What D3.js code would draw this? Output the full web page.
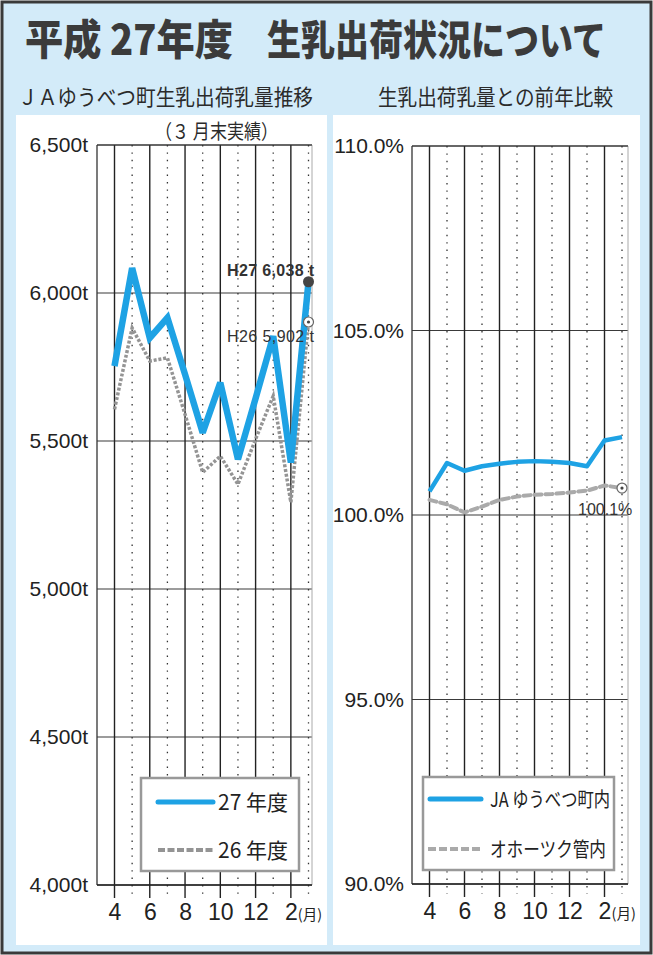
<!DOCTYPE html>
<html><head><meta charset="utf-8">
<script src="https://cdn.jsdelivr.net/npm/d3@7"></script>
<style>
body{margin:0;background:#fff;}
svg{display:block;}
text{font-family:"Liberation Sans",Arial,sans-serif;}
.jp{font-family:"Noto Sans CJK JP","Noto Sans",sans-serif;}
</style></head>
<body>
<svg id="c" width="653" height="955"></svg>
<script>
// ---------- data ----------
const months = [4,5,6,7,8,9,10,11,12,1,2,3];
const xTickIdx = [0,2,4,6,8,10];
const xTickLabels = ["4","6","8","10","12","2"];

const volTicks = [4000,4500,5000,5500,6000,6500];
const volTickLabels = ["4,000t","4,500t","5,000t","5,500t","6,000t","6,500t"];
const volH27 = [5753,6084,5848,5916,5725,5528,5697,5438,5644,5854,5427,6038];
const volH26 = [5607,5882,5770,5781,5590,5394,5449,5354,5506,5652,5293,5902];

const pctTicks = [90,95,100,105,110];
const pctTickLabels = ["90.0%","95.0%","100.0%","105.0%","110.0%"];
const pctJA  = [100.64,101.41,101.20,101.32,101.39,101.44,101.46,101.44,101.41,101.32,102.02,102.11];
const pctOkh = [100.41,100.29,100.07,100.23,100.41,100.50,100.55,100.57,100.61,100.66,100.80,100.73];

const BLUE = "#1ea2e4";
const GRAY = "#949494";

const svg = d3.select("#c");

// background & frame
svg.append("rect").attr("x",2).attr("y",2).attr("width",649).attr("height",951)
  .attr("fill","#d3ebf9").attr("stroke","#3a3a3a").attr("stroke-width",3);

// title (two parts)
svg.append("text").attr("class","jp").attr("transform","translate(25,55) scale(1,1.2)")
  .attr("textLength",208).attr("lengthAdjust","spacingAndGlyphs")
  .attr("font-size",35).attr("font-weight",900).attr("fill","#3b3b3b")
  .text("平成 27年度");
svg.append("text").attr("class","jp").attr("transform","translate(267,55) scale(1,1.2)")
  .attr("font-size",34).attr("font-weight",900).attr("fill","#3b3b3b")
  .text("生乳出荷状況について");

// subtitles
svg.append("text").attr("class","jp").attr("x",18).attr("y",105)
  .attr("textLength",295).attr("lengthAdjust","spacingAndGlyphs")
  .attr("font-size",22).attr("fill","#2a2a2a").text("ＪＡゆうべつ町生乳出荷乳量推移");
svg.append("text").attr("class","jp").attr("x",378).attr("y",105)
  .attr("textLength",235).attr("lengthAdjust","spacingAndGlyphs")
  .attr("font-size",22).attr("fill","#2a2a2a").text("生乳出荷乳量との前年比較");

// panels
svg.append("rect").attr("x",16).attr("y",115).attr("width",311).attr("height",830).attr("fill","#fff");
svg.append("rect").attr("x",333).attr("y",115).attr("width",307).attr("height",830).attr("fill","#fff");

svg.append("text").attr("class","jp").attr("x",155).attr("y",139)
  .attr("textLength",123).attr("lengthAdjust","spacingAndGlyphs")
  .attr("font-size",20).attr("fill","#2a2a2a").text("（３ 月末実績）");

function drawChart(opt){
  const g = svg.append("g");
  const x = d3.scaleLinear().domain([0,11]).range(opt.xr);
  const y = d3.scaleLinear().domain(opt.yd).range(opt.yr);
  const [L,R] = opt.frame;
  const top = opt.yr[1], bot = opt.yr[0];
  g.selectAll(".hg").data(opt.ticks).enter().append("line")
    .attr("x1",L).attr("x2",R).attr("y1",d=>y(d)).attr("y2",d=>y(d))
    .attr("stroke","#3a3a3a").attr("stroke-width",1.2);
  g.selectAll(".vg").data(months).enter().append("line")
    .attr("x1",(d,i)=>x(i)).attr("x2",(d,i)=>x(i))
    .attr("y1",top).attr("y2",(d,i)=>i%2===0? bot+13 : bot+10)
    .attr("stroke",(d,i)=>i%2===0?"#222":"#333")
    .attr("stroke-width",(d,i)=>i%2===0?1.4:1.3)
    .attr("stroke-dasharray",(d,i)=>i%2===0?null:"1.4,6");
  g.append("line").attr("x1",L).attr("x2",L).attr("y1",top).attr("y2",bot).attr("stroke","#333").attr("stroke-width",1.3);
  g.append("line").attr("x1",R).attr("x2",R).attr("y1",top).attr("y2",bot).attr("stroke","#aaa").attr("stroke-width",1);
  const ya = d3.axisLeft(y).tickValues(opt.ticks).tickFormat((d,i)=>opt.tickLabels[i]).tickSize(0).tickPadding(L-opt.labelRight);
  const yg = g.append("g").attr("transform",`translate(${L},0)`).call(ya);
  yg.select(".domain").remove();
  yg.selectAll("text").attr("font-size",21).attr("fill","#222").attr("font-family","Liberation Sans, Arial, sans-serif");
  const xa = d3.axisBottom(x).tickValues(xTickIdx).tickFormat((d,i)=>xTickLabels[i]).tickSize(0).tickPadding(19);
  const xg = g.append("g").attr("transform",`translate(0,${bot})`).call(xa);
  xg.select(".domain").remove();
  xg.selectAll("text").attr("font-size",23).attr("fill","#222").attr("font-family","Liberation Sans, Arial, sans-serif");
  g.append("text").attr("class","jp").attr("x",x(10)+7).attr("y",bot+35)
    .attr("font-size",14.5).attr("fill","#222").text("(月)");
  g.append("line").attr("x1",L).attr("x2",R).attr("y1",top).attr("y2",top).attr("stroke","#333").attr("stroke-width",1.2);
  g.append("line").attr("x1",L).attr("x2",R).attr("y1",bot).attr("y2",bot).attr("stroke","#222").attr("stroke-width",1.4);
  return {g,x,y};
}

// ---------- left chart ----------
const lc = drawChart({xr:[114.5,308.5], yd:[4000,6500], yr:[885,145], frame:[97,312],
  ticks:volTicks, tickLabels:volTickLabels, labelRight:88});
const lineL = d3.line().x((d,i)=>lc.x(i)).y(d=>lc.y(d));
lc.g.append("path").attr("d",lineL(volH26)).attr("fill","none").attr("stroke",GRAY)
  .attr("stroke-width",3.5).attr("stroke-dasharray","3,1.8");
lc.g.append("path").attr("d",lineL(volH27)).attr("fill","none").attr("stroke",BLUE)
  .attr("stroke-width",6.5).attr("stroke-linejoin","miter").attr("stroke-miterlimit",3);
lc.g.append("circle").attr("cx",lc.x(11)).attr("cy",lc.y(volH27[11])).attr("r",5.5).attr("fill","#454545");
lc.g.append("circle").attr("cx",lc.x(11)).attr("cy",lc.y(volH26[11])).attr("r",5).attr("fill","#fff").attr("stroke","#666").attr("stroke-width",1.2);
lc.g.append("circle").attr("cx",lc.x(11)).attr("cy",lc.y(volH26[11])).attr("r",1.6).attr("fill","#444");
lc.g.append("text").attr("x",227).attr("y",276).attr("font-size",16).attr("font-weight","bold").attr("fill","#333")
  .attr("textLength",87).attr("lengthAdjust","spacing").text("H27  6,038 t");
lc.g.append("text").attr("x",227).attr("y",342).attr("font-size",16).attr("fill","#333")
  .attr("textLength",87).attr("lengthAdjust","spacing").text("H26  5,902 t");
// legend
lc.g.append("rect").attr("x",141).attr("y",778).attr("width",158).attr("height",93)
  .attr("fill","#fff").attr("stroke","#999").attr("stroke-width",2.5);
lc.g.append("line").attr("x1",158).attr("x2",213).attr("y1",802).attr("y2",802)
  .attr("stroke",BLUE).attr("stroke-width",5).attr("stroke-linecap","round");
lc.g.append("line").attr("x1",158).attr("x2",213).attr("y1",850).attr("y2",850)
  .attr("stroke",GRAY).attr("stroke-width",4).attr("stroke-dasharray","7,2.5");
lc.g.append("text").attr("class","jp").attr("x",218).attr("y",810).attr("font-size",21).attr("fill","#222").text("27 年度");
lc.g.append("text").attr("class","jp").attr("x",218).attr("y",858).attr("font-size",21).attr("fill","#222").text("26 年度");

// ---------- right chart ----------
const rc = drawChart({xr:[429.5,622], yd:[90,110], yr:[884,146], frame:[412,628],
  ticks:pctTicks, tickLabels:pctTickLabels, labelRight:404});
const lineR = d3.line().x((d,i)=>rc.x(i)).y(d=>rc.y(d));
rc.g.append("path").attr("d",lineR(pctOkh)).attr("fill","none").attr("stroke","#aaa")
  .attr("stroke-width",4).attr("stroke-dasharray","7,4").attr("stroke-linecap","round");
rc.g.append("path").attr("d",lineR(pctJA)).attr("fill","none").attr("stroke",BLUE)
  .attr("stroke-width",4.5).attr("stroke-linejoin","round");
rc.g.append("circle").attr("cx",rc.x(11)).attr("cy",rc.y(pctOkh[11])).attr("r",5).attr("fill","#fff").attr("stroke","#666").attr("stroke-width",1.2);
rc.g.append("circle").attr("cx",rc.x(11)).attr("cy",rc.y(pctOkh[11])).attr("r",1.6).attr("fill","#444");
rc.g.append("text").attr("x",578).attr("y",515).attr("font-size",16).attr("fill","#333").text("100.1%");
// legend
rc.g.append("rect").attr("x",423).attr("y",777).attr("width",191).attr("height",93)
  .attr("fill","#fff").attr("stroke","#999").attr("stroke-width",2.5);
rc.g.append("line").attr("x1",430).attr("x2",481).attr("y1",799).attr("y2",799)
  .attr("stroke",BLUE).attr("stroke-width",5).attr("stroke-linecap","round");
rc.g.append("line").attr("x1",428).attr("x2",482).attr("y1",849).attr("y2",849)
  .attr("stroke","#aaa").attr("stroke-width",4).attr("stroke-dasharray","8,3");
rc.g.append("text").attr("class","jp").attr("x",490).attr("y",807).attr("font-size",20)
  .attr("textLength",120).attr("lengthAdjust","spacingAndGlyphs").attr("fill","#222").text("JA ゆうべつ町内");
rc.g.append("text").attr("class","jp").attr("x",490).attr("y",857).attr("font-size",20)
  .attr("textLength",116).attr("lengthAdjust","spacingAndGlyphs").attr("fill","#222").text("オホーツク管内");
</script>
</body></html>
